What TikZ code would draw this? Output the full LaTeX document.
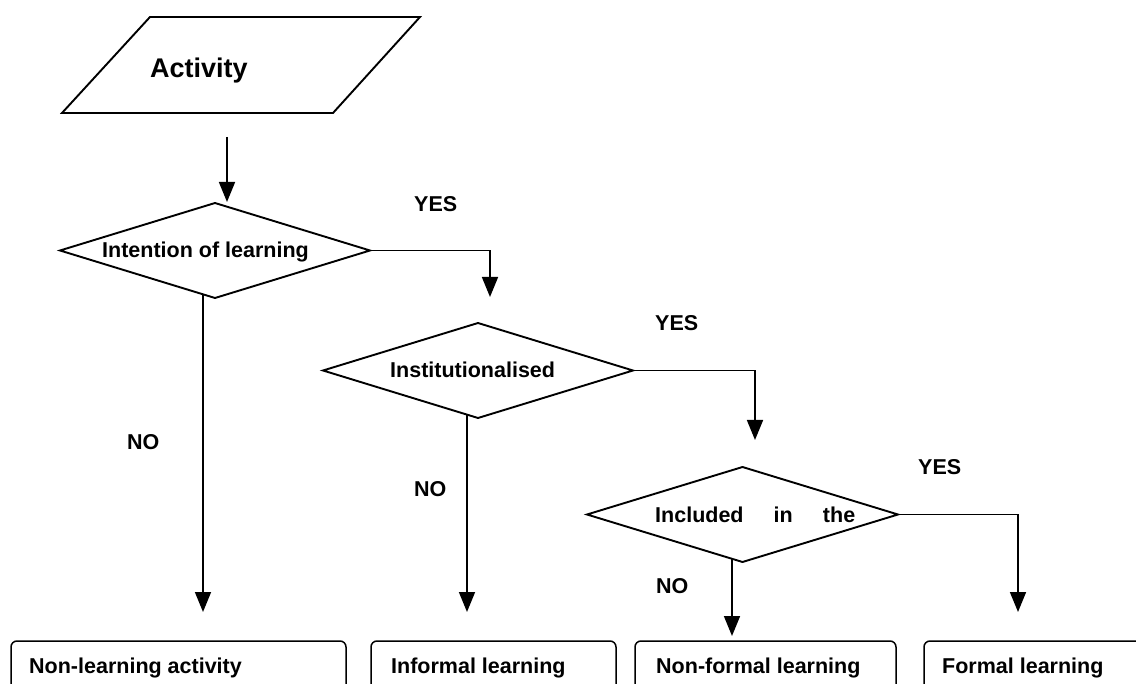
\documentclass[tikz,border=0pt]{standalone}
\usepackage{fontspec}
\setmainfont{Liberation Sans}
\usetikzlibrary{arrows.meta,shapes.geometric}
\begin{document}
\begin{tikzpicture}[x=1pt,y=-1pt,
  shapeline/.style={draw=black,line width=1.9pt,line join=miter},
  dia/.style={shape=diamond,shapeline,inner sep=0pt,outer sep=0pt,minimum width=310pt,minimum height=95pt},
  lbl/.style={anchor=base west,inner sep=0pt,font=\fontsize{21.5}{24}\selectfont\bfseries},
  conn/.style={draw=black,line width=1.6pt,-{Triangle[width=16pt,length=20pt]}},
  endbox/.style={draw=black,line width=1.5pt,rounded corners=6pt}]
\useasboundingbox (0,0) rectangle (1136,684);
% Activity parallelogram
\coordinate (p1) at (150,17);
\coordinate (p2) at (420,17);
\coordinate (p3) at (333,113);
\coordinate (p4) at (62,113);
\draw[shapeline] (p1) -- (p2) -- (p3) -- (p4) -- cycle;
\node[lbl,font=\fontsize{27}{30}\selectfont\bfseries] (act) at (150,78) {Activity};
% diamonds
\node[dia] (d1) at (215,250.5) {};
\node[dia] (d2) at (478,370.5) {};
\node[dia,minimum width=311pt] (d3) at (742.5,514.5) {};
\node[lbl] (t1) at (102,258) {Intention of learning};
\node[lbl] (t2) at (390,378) {Institutionalised};
\node[lbl] (t3) at (655,522) {\hbox to 200pt{Included\hfill in\hfill the}};
% YES / NO labels
\node[lbl] (y1) at (414,212) {YES};
\node[lbl] (y2) at (655,331) {YES};
\node[lbl] (y3) at (918,475) {YES};
\node[lbl] (n1) at (127,450) {NO};
\node[lbl] (n2) at (414,497) {NO};
\node[lbl] (n3) at (656,593) {NO};
% end boxes
\draw[endbox] (11,641) rectangle (346,720);
\draw[endbox] (371,641) rectangle (616,720);
\draw[endbox] (635,641) rectangle (896,720);
\draw[endbox] (924,641) rectangle (1160,720);
\node[lbl] (b1) at (29,673) {Non-learning activity};
\node[lbl] (b2) at (391,673) {Informal learning};
\node[lbl] (b3) at (656,673) {Non-formal learning};
\node[lbl] (b4) at (942,673) {Formal learning};
% connectors
\coordinate (s0) at (227,137);
\coordinate (e0) at (227,202);
\draw[conn] (s0) -- (e0);
\coordinate (ey1) at (490,297);
\draw[conn] (d1.east) -| (ey1);
\coordinate (sn1) at (203,295);
\coordinate (en1) at (203,612);
\draw[conn] (sn1) -- (en1);
\coordinate (ey2) at (755,440);
\draw[conn] (d2.east) -| (ey2);
\coordinate (sn2) at (467,414);
\coordinate (en2) at (467,612);
\draw[conn] (sn2) -- (en2);
\coordinate (ey3) at (1018,612);
\draw[conn] (d3.east) -| (ey3);
\coordinate (sn3) at (732,559);
\coordinate (en3) at (732,636);
\draw[conn] (sn3) -- (en3);
\end{tikzpicture}
\end{document}
